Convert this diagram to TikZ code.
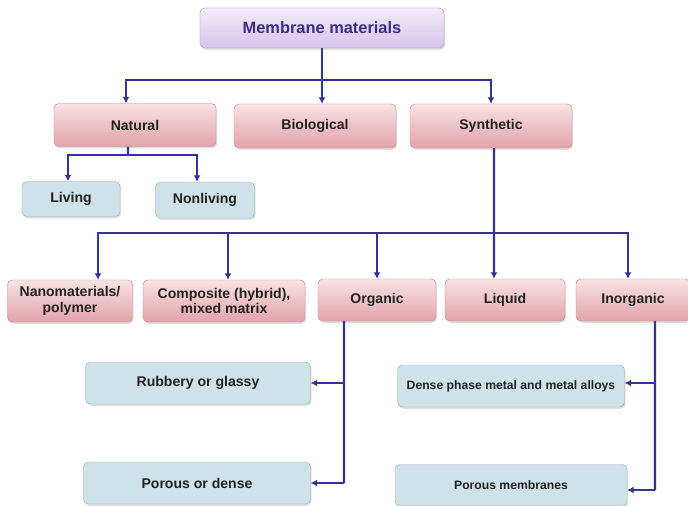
\documentclass[tikz,border=0pt]{standalone}
\usepackage{fontspec}
\setmainfont{Liberation Sans}
\usetikzlibrary{arrows.meta, shadows}
\definecolor{linkblue}{HTML}{35339A}
\definecolor{pinktop}{HTML}{F8E2E5}
\definecolor{pinkbot}{HTML}{E2A3A9}
\definecolor{pinkedge}{HTML}{C28C92}
\definecolor{bluefill}{HTML}{CDE2E9}
\definecolor{blueedge}{HTML}{9DB3BA}
\definecolor{lavtop}{HTML}{F3ECF9}
\definecolor{lavbot}{HTML}{D5C4EA}
\definecolor{lavedge}{HTML}{A897C6}
\definecolor{titletext}{HTML}{3A2E88}
\definecolor{boxtext}{HTML}{222222}

\begin{document}
\begin{tikzpicture}[
  x=0.03cm, y=-0.03cm,
  box/.style = {rectangle, rounded corners=4pt, inner sep=0pt, align=center, text=boxtext,
                font=\fontsize{12}{13.5}\selectfont\bfseries,
                drop shadow={shadow xshift=1pt, shadow yshift=-1.5pt, opacity=0.25}},
  titlebox/.style = {box, top color=lavtop, bottom color=lavbot, draw=lavedge,
                     text=titletext, font=\fontsize{14}{16}\selectfont\bfseries},
  pinkbox/.style = {box, top color=pinktop, bottom color=pinkbot, draw=pinkedge, minimum height=1.26cm},
  bluebox/.style = {box, fill=bluefill, draw=blueedge},
  arrow/.style = {-{Latex[length=5.5pt,width=6pt]}, linkblue, line width=1.9pt},
  link/.style = {linkblue, line width=1.9pt}
  ]

\useasboundingbox (0,0) rectangle (688,506);

% top level
\node[titlebox, minimum width=7.32cm, minimum height=1.2cm] (mem) at (322,28) {Membrane materials};

\node[pinkbox, minimum width=4.86cm, minimum height=1.29cm] (nat) at (135,125) {Natural};
\node[pinkbox, minimum width=4.86cm, minimum height=1.32cm] (bio) at (315,126) {Biological};
\node[pinkbox, minimum width=4.86cm, minimum height=1.32cm] (syn) at (491,126) {Synthetic};

% natural
\node[bluebox, minimum width=2.94cm, minimum height=1.05cm] (liv) at (71,199) {Living};
\node[bluebox, minimum width=2.97cm, minimum height=1.08cm] (nonliv) at (205,200) {Nonliving};

% synthetic
\node[pinkbox, minimum width=3.75cm] (nano) at (70,301) {Nanomaterials/\\polymer};
\node[pinkbox, minimum width=4.86cm] (comp) at (224,301) {Composite (hybrid),\\mixed matrix};
\node[pinkbox, minimum width=3.54cm] (org) at (377,300) {Organic};
\node[pinkbox, minimum width=3.6cm] (liq) at (505,300) {Liquid};
\node[pinkbox, minimum width=3.42cm] (ino) at (633,300) {Inorganic};

% organic / inorganic
\node[bluebox, minimum width=6.75cm, minimum height=1.26cm] (rub) at (198,383) {Rubbery or glassy};
\node[bluebox, minimum width=6.81cm, minimum height=1.26cm] (pod) at (197,483) {Porous or dense};
\node[bluebox, minimum width=6.81cm, minimum height=1.26cm,
      font=\fontsize{10.4}{12}\selectfont\bfseries] (dense) at (511,386) {Dense phase metal and metal alloys};
\node[bluebox, minimum width=6.96cm, minimum height=1.23cm,
      font=\fontsize{10.4}{12}\selectfont\bfseries] (pm) at (511,485) {Porous membranes};

% connectors
\coordinate (topbar) at (322,80);
\draw[link] (mem.south) -- (topbar);
\draw[arrow] (topbar) -| ([xshift=-0.27cm]nat.north);
\draw[arrow] (topbar) -| ([xshift=0.21cm]bio.north);
\draw[arrow] (topbar) -| (syn.north);

\coordinate (natbar) at (128,155);
\draw[link] ([xshift=-0.21cm]nat.south) -- (natbar);
\draw[arrow] (natbar) -| ([xshift=-0.09cm]liv.north);
\draw[arrow] (natbar) -| ([xshift=-0.24cm]nonliv.north);

\coordinate (synbar) at (494,233);
\draw[arrow] ([xshift=0.09cm]syn.south) -- ([xshift=-0.33cm]liq.north);
\draw[arrow] (synbar) -| ([xshift=0.84cm]nano.north);
\draw[arrow] (synbar) -| ([xshift=0.12cm]comp.north);
\draw[arrow] (synbar) -| (org.north);
\draw[arrow] (synbar) -| ([xshift=-0.15cm]ino.north);

\coordinate (orgmid) at (344,383);
\coordinate (orgend) at (344,483);
\draw[link] ([xshift=-0.99cm]org.south) -- (orgend);
\draw[arrow] (orgmid) -- (rub.east);
\draw[arrow] (orgend) -- (pod.east);

\coordinate (inomid) at (655,383);
\coordinate (inoend) at (655,490);
\draw[link] ([xshift=0.66cm]ino.south) -- (inoend);
\draw[arrow] (inomid) -- ([yshift=0.09cm]dense.east);
\draw[arrow] (inoend) -- ([yshift=-0.15cm]pm.east);

\end{tikzpicture}
\end{document}
